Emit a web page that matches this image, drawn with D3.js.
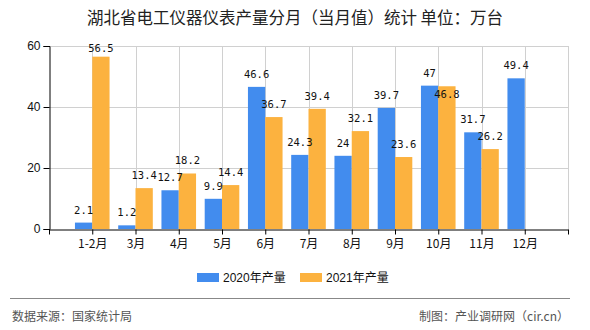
<!DOCTYPE html>
<html><head><meta charset="utf-8">
<script src="https://cdn.jsdelivr.net/npm/d3@7"></script>
<style>body{margin:0;background:#fff;} svg{display:block;}</style>
</head><body>
<svg id="c" width="590" height="330"></svg>
<script>
const categories = ["1-2月","3月","4月","5月","6月","7月","8月","9月","10月","11月","12月"];
const values2020 = [2.1, 1.2, 12.7, 9.9, 46.6, 24.3, 24, 39.7, 47, 31.7, 49.4];
const values2021 = [56.5, 13.4, 18.2, 14.4, 36.7, 39.4, 32.1, 23.6, 46.8, 26.2, null];
const seriesNames = ["2020年产量","2021年产量"];
const yTicks = [0, 20, 40, 60];
const titleText = "湖北省电工仪器仪表产量分月（当月值）统计 单位：万台";
const sourceText = "数据来源：国家统计局";
const creditText = "制图：产业调研网（cir.cn）";

const colors = ["#428cee", "#fcb23f"];
const svg = d3.select("#c");
const font = "'Liberation Sans','Noto Sans CJK SC',sans-serif";
const cjk = "'Noto Sans CJK SC','Liberation Sans',sans-serif";
const pLeft = 49, pRight = 568, pTop = 46, pBottom = 229;

const slots = ["\u0000"].concat(categories, ["\u0001"]);
const x = d3.scalePoint().domain(slots).range([pLeft, pRight]);
const y = d3.scaleLinear().domain([0, 60]).range([pBottom, pTop]);
const step = x.step();
const bw = step * 0.4;

// grid
const grid = svg.append("g");
grid.selectAll("line.h").data(yTicks.filter(d => d > 0)).join("line")
  .attr("x1", pLeft).attr("x2", pRight).attr("y1", d => y(d) + 0.5).attr("y2", d => y(d) + 0.5)
  .attr("stroke", "#d0d0d0").attr("stroke-width", 1);
grid.selectAll("line.v").data(slots.slice(1)).join("line")
  .attr("x1", d => Math.round(x(d)) + 0.5).attr("x2", d => Math.round(x(d)) + 0.5)
  .attr("y1", pTop).attr("y2", pBottom)
  .attr("stroke", "#d0d0d0").attr("stroke-width", 1);

// bars
const rows = categories.map((c, i) => ({c, v: [values2020[i], values2021[i]]}));
const items = [];
[0, 1].forEach(s => {
  rows.forEach(r => { if (r.v[s] != null) items.push({c: r.c, s, v: r.v[s], other: r.v[1 - s]}); });
});
svg.append("g").selectAll("rect").data(items).join("rect")
  .attr("x", d => x(d.c) - bw + d.s * bw)
  .attr("width", bw)
  .attr("y", d => y(d.v))
  .attr("height", d => y(0) - y(d.v))
  .attr("fill", d => colors[d.s]);

// labels (drawn above all bars); second series label moved into its bar when it would collide
function labelY(d) {
  const base = Math.max(y(d.v) - 9, 52);
  if (d.s === 1 && d.other != null) {
    const ob = Math.max(y(d.other) - 9, 52);
    if (Math.abs(ob - base) < 10 && String(d.v).length + String(d.other).length > 5) return y(d.v) + 12;
  }
  return base;
}
svg.append("g").selectAll("text").data(items).join("text")
  .attr("x", d => x(d.c) - bw + d.s * bw + bw / 2)
  .attr("y", labelY)
  .attr("text-anchor", "middle")
  .attr("font-family", "'DejaVu Sans Mono',monospace")
  .attr("font-size", "10.5px")
  .attr("fill", "#111")
  .text(d => d.v);

// axes
const yAxis = d3.axisLeft(y).tickValues(yTicks).tickSize(6).tickPadding(3).tickFormat(d3.format("d"));
const gy = svg.append("g").attr("transform", `translate(${pLeft + 0.5},0)`).call(yAxis);
gy.select(".domain").attr("stroke", "#000");
gy.selectAll(".tick line").attr("stroke", "#000");
gy.selectAll(".tick text").attr("font-family", font).attr("font-size", "12px").attr("fill", "#111");

const xAxis = d3.axisBottom(x).tickSize(5).tickPadding(5).tickSizeOuter(0)
  .tickFormat(d => categories.includes(d) ? d : "");
const gx = svg.append("g").attr("transform", `translate(0,${pBottom + 0.5})`).call(xAxis);
gx.select(".domain").attr("stroke", "#000");
gx.selectAll(".tick line").attr("stroke", "#000");
gx.selectAll(".tick text").attr("font-family", cjk).attr("font-size", "12px").attr("fill", "#111");

// title
svg.append("text").attr("x", 295).attr("y", 24).attr("text-anchor", "middle")
  .attr("font-family", cjk).attr("font-size", "16.5px").attr("fill", "#222").text(titleText);

// legend
const lg = svg.append("g");
const lx = [197, 300];
seriesNames.forEach((n, i) => {
  lg.append("rect").attr("x", lx[i]).attr("y", 273).attr("width", 22).attr("height", 9).attr("fill", colors[i]);
  lg.append("text").attr("x", lx[i] + 26).attr("y", 282).attr("font-family", font)
    .attr("font-size", "12px").attr("fill", "#111").text(n);
});

// footer
svg.append("line").attr("x1", 10).attr("x2", 570).attr("y1", 298.5).attr("y2", 298.5)
  .attr("stroke", "#888").attr("stroke-width", 1);
svg.append("text").attr("x", 12).attr("y", 321).attr("font-family", cjk).attr("font-size", "12px")
  .attr("fill", "#555").text(sourceText);
svg.append("text").attr("x", 569).attr("y", 321).attr("text-anchor", "end").attr("font-family", cjk)
  .attr("font-size", "12px").attr("fill", "#555").text(creditText);
</script>
</body></html>
